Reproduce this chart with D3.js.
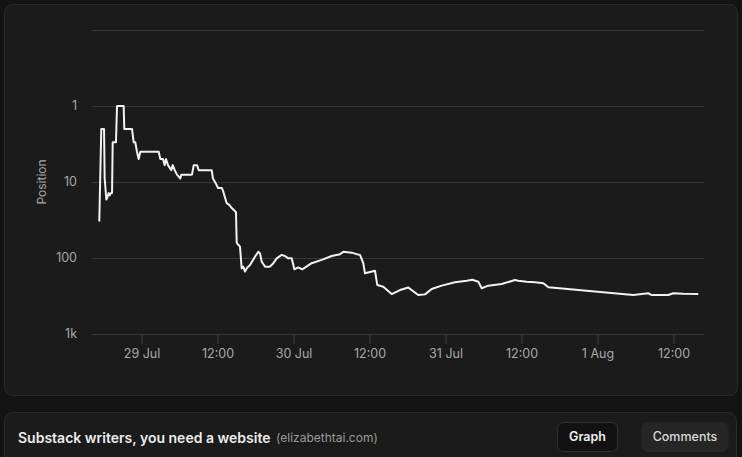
<!DOCTYPE html>
<html>
<head>
<meta charset="utf-8">
<script src="https://cdn.jsdelivr.net/npm/d3@7/dist/d3.min.js"></script>
<style>
  html, body { margin: 0; padding: 0; background: #131313; }
  svg { display: block; font-family: Inter, "Noto Sans", sans-serif; }
</style>
</head>
<body>
<svg id="chart" width="742" height="457"></svg>
<script>
// ---- data ----
const times = [
  "2024-07-28T17:20","2024-07-28T17:39","2024-07-28T18:05","2024-07-28T18:11","2024-07-28T18:27",
  "2024-07-28T18:36","2024-07-28T18:49","2024-07-28T18:59","2024-07-28T19:11","2024-07-28T19:21",
  "2024-07-28T19:27","2024-07-28T19:37","2024-07-28T19:58","2024-07-28T20:08","2024-07-28T21:11",
  "2024-07-28T21:17","2024-07-28T22:30","2024-07-28T22:46","2024-07-28T23:01","2024-07-28T23:17",
  "2024-07-28T23:33","2024-07-28T23:49","2024-07-29T02:43","2024-07-29T02:58","2024-07-29T03:24",
  "2024-07-29T03:40","2024-07-29T03:52","2024-07-29T04:11","2024-07-29T04:42","2024-07-29T04:56",
  "2024-07-29T05:15","2024-07-29T05:36","2024-07-29T06:08","2024-07-29T06:17","2024-07-29T07:58",
  "2024-07-29T08:15","2024-07-29T08:46","2024-07-29T09:02","2024-07-29T11:05","2024-07-29T11:17",
  "2024-07-29T11:36","2024-07-29T11:52","2024-07-29T12:05","2024-07-29T12:40","2024-07-29T12:52",
  "2024-07-29T13:11","2024-07-29T13:27","2024-07-29T13:52","2024-07-29T14:15","2024-07-29T14:30",
  "2024-07-29T14:55","2024-07-29T15:02","2024-07-29T15:17","2024-07-29T15:33","2024-07-29T15:49",
  "2024-07-29T16:04","2024-07-29T16:21","2024-07-29T16:39","2024-07-29T17:08","2024-07-29T17:55",
  "2024-07-29T18:27","2024-07-29T18:43","2024-07-29T18:59","2024-07-29T19:30","2024-07-29T20:17",
  "2024-07-29T20:49","2024-07-29T21:21","2024-07-29T22:08","2024-07-29T22:39","2024-07-29T23:11",
  "2024-07-29T23:43","2024-07-30T00:08","2024-07-30T00:45","2024-07-30T01:23","2024-07-30T02:52",
  "2024-07-30T04:27","2024-07-30T06:02","2024-07-30T07:21","2024-07-30T07:52","2024-07-30T09:11",
  "2024-07-30T09:59","2024-07-30T10:30","2024-07-30T11:01","2024-07-30T11:17","2024-07-30T12:52",
  "2024-07-30T13:14","2024-07-30T14:11","2024-07-30T15:30","2024-07-30T16:49","2024-07-30T18:08",
  "2024-07-30T19:42","2024-07-30T20:46","2024-07-30T21:49","2024-07-30T23:24","2024-07-31T01:30",
  "2024-07-31T03:21","2024-07-31T04:14","2024-07-31T05:11","2024-07-31T05:43","2024-07-31T06:45",
  "2024-07-31T08:52","2024-07-31T10:58","2024-07-31T11:30","2024-07-31T12:49","2024-07-31T14:08",
  "2024-07-31T15:27","2024-07-31T16:14","2024-08-01T05:39","2024-08-01T08:01","2024-08-01T08:33",
  "2024-08-01T11:11","2024-08-01T11:58","2024-08-01T13:33","2024-08-01T15:55"
];
const positions = [
  33, 2, 2, 9, 17,
  16, 14, 15, 14, 14,
  3, 3, 3, 1, 1,
  2, 2, 3, 3, 4,
  5, 4, 4, 5, 5,
  6, 5, 6, 7, 6,
  7, 8, 9, 8, 8,
  6, 6, 7, 7, 9,
  10, 11, 12, 12, 13,
  16, 19, 20, 22, 23,
  25, 63, 67, 71, 137,
  130, 151, 135, 124, 96,
  83, 87, 112, 130, 130,
  117, 101, 91, 94, 101,
  101, 141, 133, 141, 117,
  106, 94, 89, 83, 85,
  89, 91, 117, 159, 147,
  227, 239, 298, 264, 245,
  307, 301, 256, 231, 209,
  199, 193, 205, 250, 231,
  220, 195, 199, 205, 209,
  215, 243, 307, 291, 307,
  307, 291, 295, 298
];
const xDomain = ["2024-07-28T16:11", "2024-08-01T16:49"];
const yGridValues = [1000, 100, 10, 1, 0.1];
const yTickValues = [1000, 100, 10, 1];
const yTickLabels = ["1k", "100", "10", "1"];
const yLabel = "Position";
const title = "Substack writers, you need a website";
const domainText = "(elizabethtai.com)";
const buttons = ["Graph", "Comments"];

// ---- drawing ----
const parse = d3.timeParse("%Y-%m-%dT%H:%M");
const data = times.map((t, i) => ({ t: parse(t), p: positions[i] }));

const svg = d3.select("#chart");
const W = 742, H = 457;
const plot = { left: 92, right: 704, top: 30, bottom: 334 };

// panels
svg.append("rect").attr("x", 4.5).attr("y", 4.5).attr("width", 733).attr("height", 391)
  .attr("rx", 8).attr("fill", "#1b1b1b").attr("stroke", "#2b2b2b");
svg.append("rect").attr("x", 4.5).attr("y", 412.5).attr("width", 732).attr("height", 70)
  .attr("rx", 8).attr("fill", "#1b1b1b").attr("stroke", "#2b2b2b");

const x = d3.scaleTime().domain(xDomain.map(parse)).range([plot.left, plot.right]);
const y = d3.scaleLog().domain([1000, 0.1]).range([plot.bottom, plot.top]);

// grid
svg.append("g").selectAll("line").data(yGridValues).join("line")
  .attr("x1", plot.left).attr("x2", plot.right)
  .attr("y1", d => Math.round(y(d)) + 0.5).attr("y2", d => Math.round(y(d)) + 0.5)
  .attr("stroke", "#383838").attr("stroke-width", 1);

// y tick labels
svg.append("g").selectAll("text").data(yTickValues).join("text")
  .attr("x", 77).attr("y", d => y(d)).attr("dy", "0.35em")
  .attr("text-anchor", "end").attr("fill", "#a8a8a8").attr("font-size", 12.5)
  .text((d, i) => yTickLabels[i]);

// y label
svg.append("text").attr("transform", `translate(46,${y(10)}) rotate(-90)`)
  .attr("text-anchor", "middle").attr("fill", "#a8a8a8").attr("font-size", 12)
  .text(yLabel);

// x axis
const fmt = d => d.getHours() === 0 ? d3.timeFormat("%-d %b")(d) : d3.timeFormat("%H:%M")(d);
const xAxis = d3.axisBottom(x).ticks(d3.timeHour.every(12)).tickFormat(fmt).tickSize(9).tickPadding(6);
const gx = svg.append("g").attr("transform", `translate(0,${plot.bottom + 0.5})`).call(xAxis);
gx.select(".domain").remove();
gx.selectAll(".tick line").attr("stroke", "#444");
gx.selectAll(".tick text").attr("fill", "#a8a8a8").attr("font-size", 12.5)
  .attr("font-family", "Inter, 'Noto Sans', sans-serif");

// line
const line = d3.line().x(d => x(d.t)).y(d => y(d.p));
svg.append("path").datum(data).attr("d", line)
  .attr("fill", "none").attr("stroke", "#f2f2f2").attr("stroke-width", 2)
  .attr("stroke-linejoin", "round");

// bottom bar
svg.append("text").attr("x", 18).attr("y", 438).attr("dy", "0.35em")
  .attr("fill", "#ececec").attr("font-size", 14).attr("font-weight", 600).text(title);
const tw = svg.select("text:last-of-type").node().getComputedTextLength();
svg.append("text").attr("x", 276).attr("y", 438).attr("dy", "0.35em")
  .attr("fill", "#9a9a9a").attr("font-size", 12).text(domainText);

// buttons
const btn = [
  { x: 557.5, w: 60, fill: "#121212", stroke: "#303030", tc: "#f0f0f0" },
  { x: 642, w: 86, fill: "#262626", stroke: "#262626", tc: "#d8d8d8" }
];
btn.forEach((b, i) => {
  svg.append("rect").attr("x", b.x).attr("y", 422.5).attr("width", b.w).attr("height", 29)
    .attr("rx", 6).attr("fill", b.fill).attr("stroke", b.stroke);
  svg.append("text").attr("x", b.x + b.w / 2).attr("y", 437).attr("dy", "0.35em")
    .attr("text-anchor", "middle").attr("fill", b.tc).attr("font-size", 12.5)
    .attr("font-weight", i === 0 ? 600 : 500).text(buttons[i]);
});
</script>
</body>
</html>
